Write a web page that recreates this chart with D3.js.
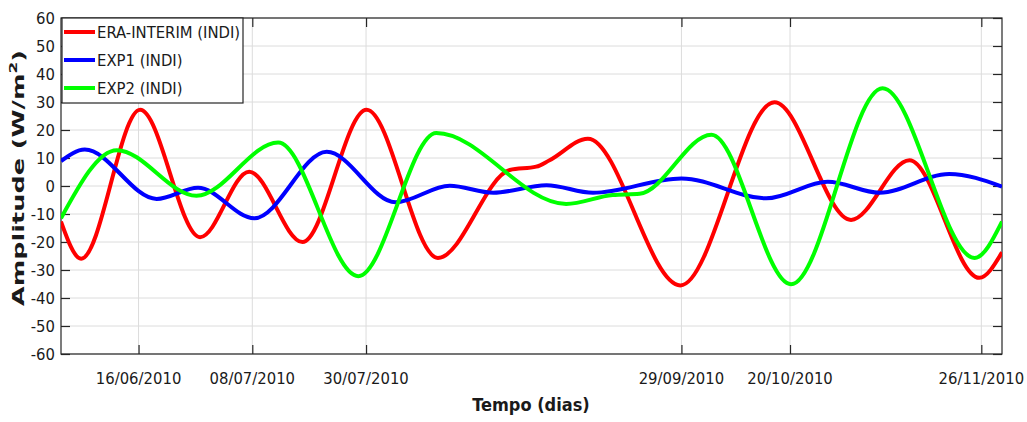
<!DOCTYPE html>
<html><head><meta charset="utf-8">
<script src="https://cdn.jsdelivr.net/npm/d3@7"></script>
<style>
body{margin:0;background:#fff;}
svg{display:block;}
text{font-family:"DejaVu Sans Condensed","DejaVu Sans",sans-serif;font-stretch:condensed;fill:#1a1a1a;}
</style></head>
<body><svg id="c" width="1027" height="422"></svg>
<script>
// Days counted from 01/06/2010
const startDate = "01/06/2010";
const endDay = 182;
const xTickLabels = ["16/06/2010","08/07/2010","30/07/2010","29/09/2010","20/10/2010","26/11/2010"];
const yTicks = [-60,-50,-40,-30,-20,-10,0,10,20,30,40,50,60];
const seriesNames = ["ERA-INTERIM (INDI)","EXP1 (INDI)","EXP2 (INDI)"];
const seriesColors = ["#ff0000","#0000ff","#00ff00"];

const eraDays = [0,3.9,15.3,26.9,36.4,46.7,59.1,72.9,86.8,91.9,94.5,101.9,119.8,138.0,152.8,164.1,177.6,182];
const eraVals = [-12.7,-26,27.2,-18.3,5.1,-20,27.2,-25.7,5.7,6.9,9.2,16.9,-35.5,29.9,-12.1,9.2,-32.8,-23.7];

const exp1Days = [0,4.6,18.5,26.5,37.4,51.4,64.7,75.2,83.6,93.9,102.9,120.0,136.4,148.3,158.3,171.8,182];
const exp1Vals = [8.9,13,-4.6,-0.6,-11.5,12.2,-5.8,0.1,-2.4,0.3,-2.4,2.7,-4.4,1.5,-2.4,4.3,-0.2];

const exp2Days = [0,10.8,26.2,42.0,57.5,72.6,97.7,106.7,111.9,125.8,141.2,158.9,176.7,182];
const exp2Vals = [-11.5,12.8,-3.5,15.5,-32.2,18.9,-6.4,-3.2,-2.8,18.3,-35.1,34.9,-25.7,-12.7];

const svg = d3.select("#c");
const L=61, R=1002, T=18, B=354;
const x = d3.scaleLinear().domain([0,endDay]).range([L,R]);
const y = d3.scaleLinear().domain([-60,60]).range([B,T]);
const parse = d3.timeParse("%d/%m/%Y");
const d0 = parse(startDate);
const xTickDays = xTickLabels.map(s => d3.timeDay.count(d0, parse(s)));

// grid
const g = svg.append("g");
g.selectAll(".hg").data(yTicks).enter().append("line")
  .attr("x1",L).attr("x2",R).attr("y1",d=>y(d)).attr("y2",d=>y(d))
  .attr("stroke","#dcdcdc").attr("stroke-width",1);
g.selectAll(".vg").data(xTickDays).enter().append("line")
  .attr("y1",T).attr("y2",B).attr("x1",d=>x(d)).attr("x2",d=>x(d))
  .attr("stroke","#dcdcdc").attr("stroke-width",1);

// axes (ticks inward, mirrored)
const tl = 9;
const axL = d3.axisRight(y).tickValues(yTicks).tickSize(tl).tickFormat("");
const axR = d3.axisLeft(y).tickValues(yTicks).tickSize(tl).tickFormat("");
const axB = d3.axisTop(x).tickValues(xTickDays).tickSize(tl).tickFormat("");
const axT = d3.axisBottom(x).tickValues(xTickDays).tickSize(tl).tickFormat("");
[[axL,`translate(${L},0)`],[axR,`translate(${R},0)`],[axB,`translate(0,${B})`],[axT,`translate(0,${T})`]].forEach(([a,t])=>{
  const gg = svg.append("g").attr("transform",t).call(a);
  gg.select(".domain").remove();
  gg.selectAll("line").attr("stroke","#262626").attr("stroke-width",1.2);
});
svg.append("rect").attr("x",L).attr("y",T).attr("width",R-L).attr("height",B-T)
  .attr("fill","none").attr("stroke","#262626").attr("stroke-width",1.2);

// tick labels
svg.selectAll(".yl").data(yTicks).enter().append("text")
  .attr("x",55).attr("y",d=>y(d)).attr("dy","0.36em").attr("text-anchor","end")
  .attr("font-size",16.5).text(d=>d);
svg.selectAll(".xl").data(xTickDays).enter().append("text")
  .attr("x",d=>x(d)).attr("y",384).attr("text-anchor","middle")
  .attr("font-size",16.5).text((d,i)=>xTickLabels[i]);

// lines
const clip = svg.append("clipPath").attr("id","cp").append("rect")
  .attr("x",L).attr("y",T).attr("width",R-L).attr("height",B-T);
const line = d3.line().x(d=>x(d[0])).y(d=>y(d[1])).curve(d3.curveMonotoneX);
const series = [[eraDays,eraVals],[exp1Days,exp1Vals],[exp2Days,exp2Vals]];
series.forEach(([ds,vs],i)=>{
  svg.append("path").datum(ds.map((d,j)=>[d,vs[j]]))
    .attr("d",line).attr("fill","none").attr("stroke",seriesColors[i])
    .attr("stroke-width",4).attr("clip-path","url(#cp)");
});

// legend
const lg = svg.append("g");
lg.append("rect").attr("x",62).attr("y",18).attr("width",181).attr("height",85)
  .attr("fill","#fff").attr("stroke","#262626").attr("stroke-width",1.2);
const ly = [32,60,88];
seriesNames.forEach((n,i)=>{
  lg.append("line").attr("x1",64).attr("x2",95).attr("y1",ly[i]).attr("y2",ly[i])
    .attr("stroke",seriesColors[i]).attr("stroke-width",4);
  lg.append("text").attr("x",97).attr("y",ly[i]).attr("dy","0.36em")
    .attr("font-size",16.5).text(n);
});

// axis titles
svg.append("text").attr("x",531).attr("y",411).attr("text-anchor","middle")
  .attr("font-size",18).attr("font-weight","bold").text("Tempo (dias)");
const yt = svg.append("text").attr("transform","translate(24,178) rotate(-90)")
  .attr("text-anchor","middle").attr("font-size",16.5).attr("font-weight","bold")
  .style("font-family","'DejaVu Sans',sans-serif").style("font-stretch","normal")
  .attr("textLength",256).attr("lengthAdjust","spacingAndGlyphs");
yt.append("tspan").text("Amplitude (W/m");
yt.append("tspan").attr("dy",-7).attr("font-size",11).text("2");
yt.append("tspan").attr("dy",7).text(")");
</script></body></html>
